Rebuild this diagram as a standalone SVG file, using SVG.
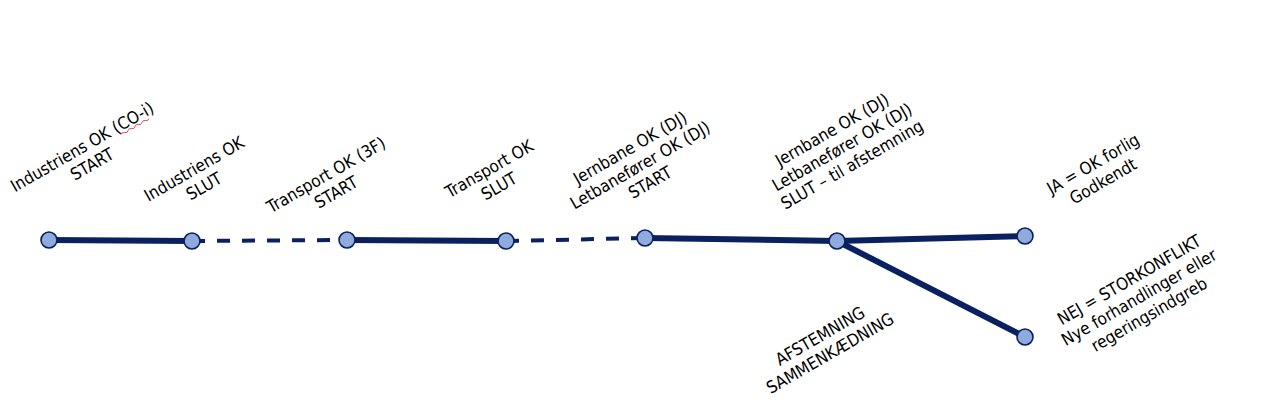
<svg xmlns="http://www.w3.org/2000/svg" width="1280" height="406" viewBox="0 0 1280 406">
<style>
.solid{stroke:#0a2060;stroke-width:6;fill:none;stroke-linecap:butt}
.dash{stroke:#0a2060;stroke-width:4;fill:none;stroke-dasharray:13 12}
.node{fill:#8faadc;stroke:#0a2060;stroke-width:1.6}
.lbl{font-family:"DejaVu Sans Condensed","Liberation Sans",sans-serif;font-size:17px;fill:#000;text-anchor:middle}
.squig{fill:none;stroke:#e03030;stroke-width:0.8}
</style>
<rect width="1280" height="406" fill="#fff"/>
<g id="connectors">
<line class="solid" x1="49" y1="240" x2="192" y2="241"/>
<line class="dash" x1="192" y1="241" x2="347" y2="240"/>
<line class="solid" x1="347" y1="240" x2="506" y2="241"/>
<line class="dash" x1="506" y1="241" x2="645" y2="238"/>
<line class="solid" x1="645" y1="238" x2="837" y2="241"/>
<line class="solid" x1="837" y1="241" x2="1025" y2="236"/>
<line class="solid" x1="837" y1="241" x2="1025" y2="337"/>
</g>
<g id="n1"><circle class="node" cx="49" cy="240" r="8"/>
<text class="lbl" transform="translate(85,152) rotate(-30)"><tspan x="0" y="0">Industriens OK (CO-i)</tspan><tspan x="0" y="20">START</tspan></text>
<path class="squig" transform="translate(85,152) rotate(-30)" d="M40,3 q2,-2 4,0 t4,0 t4,0 t4,0 t4,0 t4,0 t4,0 t4,0"/></g>
<g id="n2"><circle class="node" cx="192" cy="241" r="8"/>
<text class="lbl" transform="translate(197,174) rotate(-30)"><tspan x="0" y="0">Industriens OK</tspan><tspan x="0" y="20">SLUT</tspan></text></g>
<g id="n3"><circle class="node" cx="347" cy="240" r="8"/>
<text class="lbl" transform="translate(329,180) rotate(-30)"><tspan x="0" y="0">Transport OK (3F)</tspan><tspan x="0" y="20">START</tspan></text></g>
<g id="n4"><circle class="node" cx="506" cy="241" r="8"/>
<text class="lbl" transform="translate(492,174) rotate(-30)"><tspan x="0" y="0">Transport OK</tspan><tspan x="0" y="20">SLUT</tspan></text></g>
<g id="n5"><circle class="node" cx="645" cy="238" r="8"/>
<text class="lbl" transform="translate(633,153) rotate(-30)"><tspan x="0" y="0">Jernbane OK (DJ)</tspan><tspan x="0" y="20">Letbanefører OK (DJ)</tspan><tspan x="0" y="40">START</tspan></text></g>
<g id="n6"><circle class="node" cx="837" cy="241" r="8"/>
<text class="lbl" transform="translate(835,135) rotate(-30)"><tspan x="0" y="0">Jernbane OK (DJ)</tspan><tspan x="0" y="20">Letbanefører OK (DJ)</tspan><tspan x="0" y="40">SLUT – til afstemning</tspan></text>
<text class="lbl" transform="translate(823,341) rotate(-30)"><tspan x="0" y="0">AFSTEMNING</tspan><tspan x="0" y="20">SAMMENKÆDNING</tspan></text></g>
<g id="n7"><circle class="node" cx="1025" cy="236" r="8"/>
<text class="lbl" transform="translate(1096,169) rotate(-30)"><tspan x="0" y="0">JA = OK forlig</tspan><tspan x="0" y="20">Godkendt</tspan></text></g>
<g id="n8"><circle class="node" cx="1025" cy="337" r="8"/>
<text class="lbl" transform="translate(1132,285) rotate(-30)"><tspan x="0" y="0">NEJ = STORKONFLIKT</tspan><tspan x="0" y="20">Nye forhandlinger eller</tspan><tspan x="0" y="40">regeringsindgreb</tspan></text></g>
</svg>
